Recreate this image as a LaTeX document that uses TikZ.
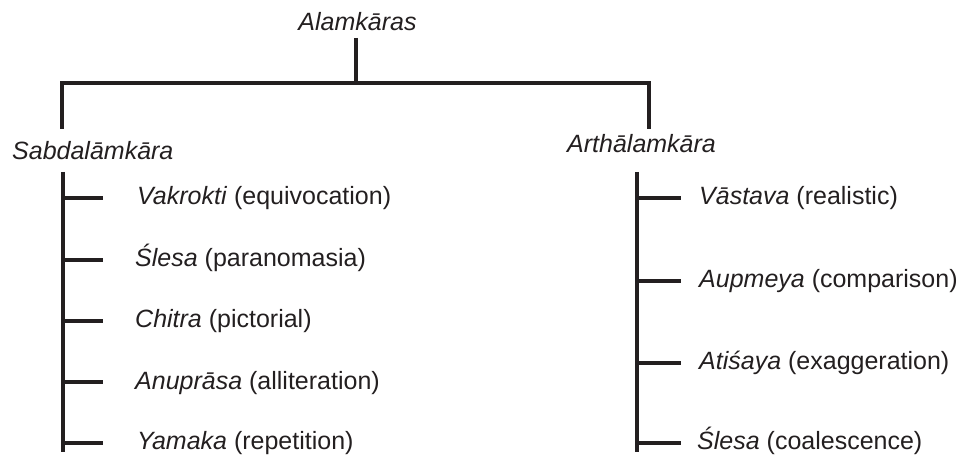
\documentclass[tikz,border=0pt]{standalone}
\usepackage{fontspec}
\setmainfont{Liberation Sans}
\definecolor{ink}{RGB}{35,31,32}
\begin{document}
\begin{tikzpicture}[x=1bp,y=-1bp,
  lbl/.style={inner sep=0pt, anchor=base west, text=ink, font=\fontsize{25bp}{30bp}\selectfont},
  ln/.style={draw=ink, line width=3.2bp}]
\useasboundingbox (0,0) rectangle (966,460);
% headings
\node[lbl, anchor=base] (root) at (357.5,31) {\textit{Alamkāras}};
\node[lbl] (sab) at (12,160) {\textit{Sabdalāmkāra}};
\node[lbl] (arth) at (567,153) {\textit{Arthālamkāra}};
% top connectors
\coordinate (rootb) at (356,38);
\coordinate (mid) at (356,83);
\coordinate (lt) at (62,129);
\coordinate (rt) at (649,129);
\draw[ln] (rootb) -- (mid);
\draw[ln, line join=miter] (lt) -- (62,83) -- (649,83) -- (rt);
% left list
\node[lbl] (l1) at (137,205) {\textit{Vakrokti} (equivocation)};
\node[lbl] (l2) at (135,267) {\textit{Ślesa} (paranomasia)};
\node[lbl] (l3) at (135,328) {\textit{Chitra} (pictorial)};
\node[lbl] (l4) at (135,389) {\textit{Anuprāsa} (alliteration)};
\node[lbl] (l5) at (137,449) {\textit{Yamaka} (repetition)};
\coordinate (ls) at (63,172);
\coordinate (le) at (63,452);
\draw[ln] (ls) -- (le);
\foreach \y in {198,260,321,382,443} \draw[ln] (63,\y) -- (103,\y);
% right list
\node[lbl] (r1) at (699,205) {\textit{Vāstava} (realistic)};
\node[lbl] (r2) at (699,288) {\textit{Aupmeya} (comparison)};
\node[lbl] (r3) at (699,370) {\textit{Atiśaya} (exaggeration)};
\node[lbl] (r4) at (697,449) {\textit{Ślesa} (coalescence)};
\coordinate (rs) at (637,172);
\coordinate (re) at (637,452);
\draw[ln] (rs) -- (re);
\foreach \y in {198,281,363,443} \draw[ln] (637,\y) -- (681,\y);
\end{tikzpicture}
\end{document}
